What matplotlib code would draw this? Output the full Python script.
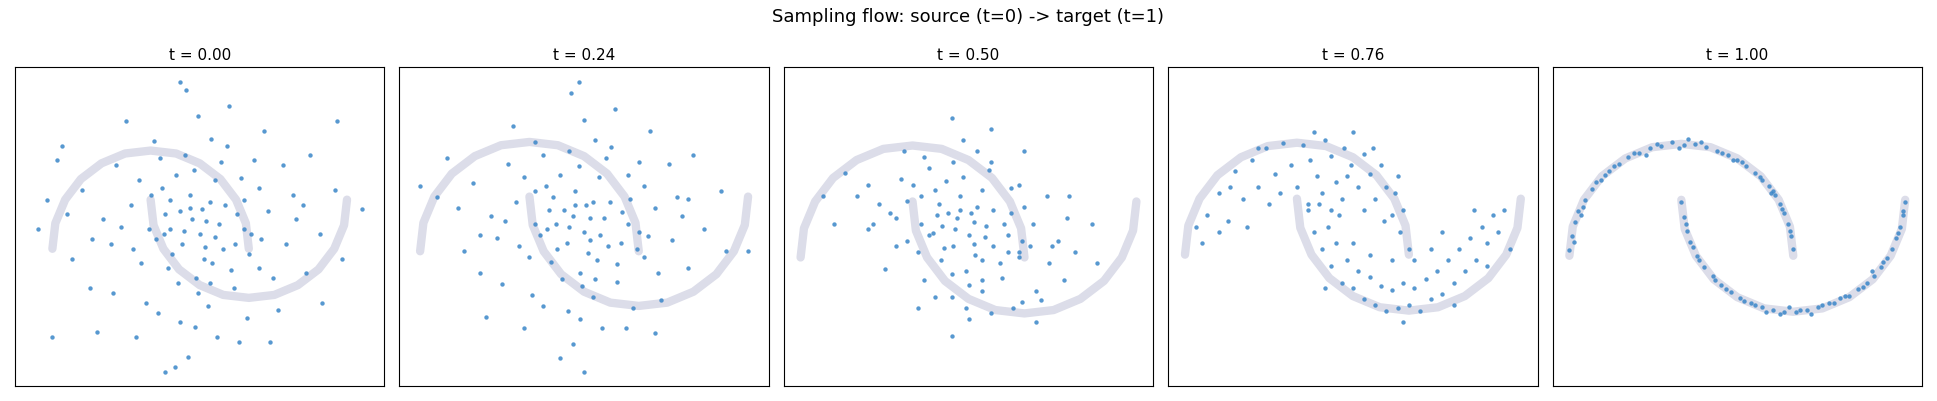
import matplotlib.pyplot as plt

# sample positions (subset of points)
pts_t000 = [(0.42,0.30),(-0.35,0.85),(1.10,-0.20),(0.05,0.10),(0.78,1.05),(-0.62,-0.40),(1.45,0.55),(0.30,-0.75),(0.12,0.62),(0.95,0.20),
    (-0.10,-0.15),(0.60,0.48),(1.30,-0.62),(-0.85,0.35),(0.48,1.35),(0.22,-0.05),(1.72,0.15),(-0.40,0.05),(0.85,-0.40),(0.03,1.10),
    (0.55,0.02),(1.05,0.90),(-0.20,0.45),(0.38,-1.10),(0.70,0.25),(1.58,-0.25),(-0.95,0.90),(0.26,0.75),(0.90,-0.95),(0.15,0.35),
    (-0.55,-0.85),(1.20,0.38),(0.46,-0.30),(0.66,0.70),(-0.05,-0.55),(1.88,0.60),(0.34,0.18),(0.80,1.45),(-0.30,0.22),(1.00,-0.05),
    (0.58,-0.58),(0.10,0.92),(1.38,0.05),(-0.70,0.60),(0.52,0.40),(0.28,-0.35),(0.74,0.00),(1.15,1.20),(-0.15,-0.90),(0.40,0.55),
    (0.95,0.50),(0.18,-0.20),(1.62,0.95),(-0.48,0.30),(0.63,-0.15),(0.36,1.62),(0.88,0.35),(-0.02,0.20),(1.25,-0.30),(0.50,0.15),
    (0.08,-0.65),(0.72,0.88),(-0.25,1.30),(1.48,0.30),(0.32,0.05),(0.98,-0.70),(0.44,0.80),(-0.60,0.10),(1.10,0.62),(0.20,0.50),
    (0.68,-0.90),(1.35,0.85),(-0.12,0.70),(0.56,0.28),(0.82,-0.22),(0.25,-1.20),(1.95,-0.10),(-0.80,-0.10),(0.48,-0.45),(0.14,0.15),
    (1.02,0.15),(0.62,1.12),(-0.38,-0.45),(0.40,0.42),(1.22,-0.95),(0.76,0.45),(0.00,0.55),(0.54,-0.10),(1.55,0.45),(-0.18,0.00),
    (0.30,0.38),(0.92,0.72),(0.66,0.12),(-1.05,0.50),(0.45,-0.80),(1.12,0.10),(0.35,0.95),(0.60,-0.35),(0.20,0.20),(0.86,0.05),
    (-1.15,0.20),(2.15,0.40),(0.30,1.70),(0.15,-1.25),(-1.00,-0.90),(1.90,1.30),(-0.90,1.05),(1.75,-0.55)]

pts_t024 = [(0.40,0.32),(-0.20,0.80),(1.05,-0.05),(0.10,0.15),(0.75,0.95),(-0.45,-0.20),(1.35,0.50),(0.35,-0.55),(0.15,0.60),(0.90,0.25),
    (0.00,-0.05),(0.58,0.45),(1.20,-0.45),(-0.65,0.40),(0.50,1.20),(0.25,0.02),(1.60,0.20),(-0.30,0.12),(0.80,-0.28),(0.05,1.00),
    (0.55,0.10),(1.00,0.82),(-0.12,0.45),(0.40,-0.85),(0.68,0.30),(1.45,-0.15),(-0.75,0.85),(0.28,0.70),(0.88,-0.70),(0.18,0.38),
    (-0.40,-0.60),(1.15,0.40),(0.46,-0.20),(0.64,0.68),(0.02,-0.40),(1.75,0.55),(0.36,0.22),(0.78,1.30),(-0.22,0.28),(0.98,0.02),
    (0.58,-0.42),(0.12,0.88),(1.30,0.10),(-0.52,0.62),(0.52,0.42),(0.30,-0.25),(0.72,0.05),(1.10,1.10),(-0.05,-0.70),(0.42,0.55),
    (0.92,0.48),(0.20,-0.10),(1.50,0.88),(-0.35,0.32),(0.62,-0.08),(0.38,1.45),(0.85,0.36),(0.05,0.25),(1.18,-0.20),(0.50,0.18),
    (0.12,-0.50),(0.70,0.85),(-0.15,1.15),(1.40,0.32),(0.34,0.08),(0.95,-0.52),(0.45,0.78),(-0.45,0.15),(1.05,0.60),(0.22,0.50),
    (0.66,-0.70),(1.28,0.80),(-0.05,0.68),(0.55,0.30),(0.80,-0.12),(0.28,-0.98),(1.80,0.00),(-0.60,0.00),(0.48,-0.32),(0.16,0.20),
    (1.00,0.18),(0.60,1.02),(-0.25,-0.30),(0.42,0.42),(1.15,-0.75),(0.74,0.45),(0.05,0.55),(0.54,-0.02),(1.45,0.48),(-0.10,0.05),
    (0.32,0.38),(0.90,0.70),(0.65,0.15),(-0.85,0.50),(0.46,-0.62),(1.08,0.14),(0.36,0.92),(0.60,-0.25),(0.24,0.25),(0.84,0.08),
    (-1.00,0.60),(2.00,0.00),(0.45,1.55),(0.50,-1.10)]

pts_t050 = [(0.40,0.35),(-0.10,0.70),(0.95,0.00),(0.15,0.20),(0.70,0.85),(-0.35,0.30),(1.25,0.10),(0.35,-0.35),(0.20,0.60),(0.85,0.20),
    (0.05,0.05),(0.58,0.45),(1.10,-0.30),(-0.50,0.55),(0.45,1.05),(0.28,0.08),(1.45,0.05),(-0.20,0.40),(0.80,-0.18),(0.10,0.90),
    (0.55,0.12),(0.95,0.65),(-0.05,0.50),(0.50,-0.55),(0.66,0.28),(1.35,-0.20),(-0.60,0.75),(0.30,0.68),(0.90,-0.45),(0.22,0.38),
    (-0.25,-0.10),(1.08,0.30),(0.48,-0.12),(0.62,0.60),(0.10,-0.20),(1.60,0.30),(0.38,0.25),(0.70,1.15),(-0.15,0.35),(0.95,0.05),
    (0.62,-0.30),(0.15,0.80),(1.22,-0.05),(-0.40,0.65),(0.52,0.40),(0.35,-0.15),(0.72,0.10),(1.00,0.95),(0.05,-0.45),(0.42,0.55),
    (0.88,0.40),(0.25,-0.02),(1.40,0.55),(-0.30,0.48),(0.62,-0.02),(0.35,1.25),(0.82,0.30),(0.08,0.30),(1.15,-0.38),(0.50,0.20),
    (0.20,-0.35),(0.68,0.78),(-0.08,0.95),(1.30,0.15),(0.36,0.10),(0.98,-0.40),(0.45,0.72),(-0.40,0.25),(1.00,0.45),(0.24,0.48),
    (0.70,-0.50),(1.20,0.55),(0.00,0.65),(0.55,0.32),(0.78,-0.05),(0.35,-0.70),(1.65,-0.05),(-0.70,0.30),(0.50,-0.25),(0.18,0.22),
    (0.98,0.15),(0.58,0.95),(-0.15,0.10),(0.42,0.42),(1.10,-0.58),(0.72,0.42),(0.08,0.55),(0.56,0.02),(1.38,0.35),(-0.05,0.15),
    (0.32,0.40),(0.88,0.62),(0.65,0.18),(-0.80,0.55),(0.48,-0.45),(1.05,0.10),(0.36,0.85),(0.62,-0.20),(0.26,0.28),(0.85,0.05)]

pts_t076 = [(-0.85,0.10),(-0.80,0.35),(-0.70,0.55),(-0.62,0.30),(-0.55,0.75),(-0.48,0.50),(-0.40,0.85),(-0.35,0.60),(-0.28,0.95),(-0.20,0.72),
    (-0.12,1.00),(-0.05,0.80),(0.00,0.60),(0.05,0.98),(0.12,0.85),(0.18,0.70),(0.25,1.02),(0.30,0.88),(0.35,0.65),(0.42,0.95),
    (0.48,0.80),(0.55,0.60),(0.60,0.90),(0.65,0.72),(0.70,0.50),(0.75,0.80),(0.80,0.60),(0.85,0.35),(0.88,0.55),(0.92,0.20),
    (0.95,0.40),(0.60,0.40),(0.40,0.50),(-0.25,0.45),(-0.70,0.20),(0.10,0.45),(0.50,1.10),(-0.45,0.25),(0.78,0.30),(0.22,0.55),
    (-0.15,0.55),(0.68,0.95),(0.30,0.40),(-0.60,0.60),(0.90,0.70),(1.00,0.05),(-0.90,0.25),(0.15,1.10),(0.45,0.70),(-0.35,0.95),
    (0.10,0.40),(0.15,0.20),(0.20,0.45),(0.22,0.05),(0.28,0.25),(0.30,-0.10),(0.35,0.10),(0.40,-0.25),(0.45,-0.05),(0.50,-0.30),
    (0.55,-0.15),(0.60,-0.40),(0.65,-0.20),(0.70,-0.45),(0.75,-0.28),(0.80,-0.50),(0.85,-0.32),(0.90,-0.48),(0.95,-0.25),(1.00,-0.45),
    (1.05,-0.30),(1.10,-0.50),(1.15,-0.22),(1.20,-0.40),(1.25,-0.15),(1.30,-0.35),(1.35,-0.05),(1.40,-0.25),(1.45,0.05),(1.50,-0.15),
    (1.55,0.15),(1.60,-0.05),(1.65,0.25),(1.70,0.10),(1.75,0.35),(1.80,0.20),(1.85,0.40),(1.58,0.40),(1.20,0.05),(0.85,-0.05),
    (0.50,0.10),(0.38,0.35),(0.95,-0.60),(1.40,-0.45),(0.65,0.00),(1.05,-0.05),(1.70,-0.10),(0.25,-0.30),(1.90,0.05),(1.30,0.20)]

pts_t100 = [(-1.00,0.05),(-0.98,0.18),(-0.95,0.30),(-0.92,0.40),(-0.86,0.50),(-0.80,0.60),(-0.72,0.68),(-0.65,0.76),(-0.56,0.82),(-0.48,0.88),
    (-0.38,0.92),(-0.28,0.96),(-0.18,0.98),(-0.08,1.02),(0.02,0.99),(0.12,1.00),(0.22,0.97),(0.32,0.94),(0.42,0.90),(0.50,0.86),
    (0.58,0.80),(0.66,0.74),(0.72,0.68),(0.78,0.62),(0.84,0.54),(0.88,0.46),(0.92,0.38),(0.95,0.28),(0.98,0.18),(1.00,0.06),
    (-0.96,0.12),(-0.88,0.44),(-0.76,0.66),(-0.60,0.80),(-0.42,0.92),(-0.22,1.00),(-0.02,0.96),(0.18,1.02),(0.36,0.92),(0.54,0.84),
    (0.70,0.70),(0.82,0.58),(0.90,0.42),(0.97,0.22),(-0.90,0.36),(-0.68,0.72),(-0.32,0.90),(0.06,1.04),(0.46,0.86),(0.80,0.56),
    (0.00,0.48),(0.02,0.35),(0.05,0.22),(0.08,0.12),(0.14,0.00),(0.20,-0.10),(0.28,-0.18),(0.35,-0.26),(0.44,-0.32),(0.52,-0.38),
    (0.62,-0.42),(0.72,-0.46),(0.82,-0.48),(0.92,-0.50),(1.02,-0.50),(1.12,-0.48),(1.22,-0.46),(1.32,-0.42),(1.42,-0.38),(1.50,-0.36),
    (1.58,-0.30),(1.66,-0.24),(1.72,-0.18),(1.78,-0.10),(1.84,-0.02),(1.88,0.06),(1.92,0.16),(1.95,0.26),(1.98,0.36),(2.00,0.48),
    (0.04,0.28),(0.16,-0.04),(0.40,-0.30),(0.66,-0.44),(0.88,-0.52),(1.06,-0.48),(1.26,-0.44),(1.46,-0.36),(1.62,-0.28),(1.80,-0.06),
    (1.94,0.20),(0.10,0.08),(0.56,-0.40),(0.96,-0.46),(1.36,-0.42),(1.70,-0.14),(1.98,0.40),(0.30,-0.22),(0.76,-0.50),(1.16,-0.52)]

# target moons (background band)
upper_moon_x = [-1, -0.97, -0.87, -0.71, -0.5, -0.26, 0, 0.26, 0.5, 0.71, 0.87, 0.97, 1]
upper_moon_y = [0, 0.26, 0.5, 0.71, 0.87, 0.97, 1, 0.97, 0.87, 0.71, 0.5, 0.26, 0]
lower_moon_x = [0, 0.03, 0.13, 0.29, 0.5, 0.74, 1, 1.26, 1.5, 1.71, 1.87, 1.97, 2]
lower_moon_y = [0.5, 0.24, 0, -0.21, -0.37, -0.47, -0.5, -0.47, -0.37, -0.21, 0, 0.24, 0.5]

times = [0.00, 0.24, 0.50, 0.76, 1.00]
panels = [pts_t000, pts_t024, pts_t050, pts_t076, pts_t100]

fig, axes = plt.subplots(1, 5, figsize=(19.37, 4.02), dpi=100)
for ax, t, pts in zip(axes, times, panels):
    for mx, my in [(upper_moon_x, upper_moon_y), (lower_moon_x, lower_moon_y)]:
        ax.plot(mx, my, color='#dcdde9', lw=6, solid_capstyle='round', zorder=1)
    xs = [p[0] for p in pts]
    ys = [p[1] for p in pts]
    ax.scatter(xs, ys, s=10, color='#3a86c8', alpha=0.85, linewidths=0, zorder=2)
    ax.set_title(f"t = {t:.2f}", fontsize=11)
    ax.set_xticks([])
    ax.set_yticks([])

fig.suptitle("Sampling flow: source (t=0) -> target (t=1)", fontsize=13)
plt.tight_layout()

# equal data scale in x and y, expanding the shorter range to fill the box
W, H = fig.get_size_inches()
for ax in axes:
    pos = ax.get_position()
    box_ratio = (pos.height * H) / (pos.width * W)
    x0, x1 = ax.get_xlim()
    y0, y1 = ax.get_ylim()
    dx, dy = x1 - x0, y1 - y0
    if dy / dx < box_ratio:
        cy, ny = (y0 + y1) / 2, dx * box_ratio
        ax.set_ylim(cy - ny / 2, cy + ny / 2)
    else:
        cx, nx = (x0 + x1) / 2, dy / box_ratio
        ax.set_xlim(cx - nx / 2, cx + nx / 2)

plt.savefig('out.png', dpi=100)
